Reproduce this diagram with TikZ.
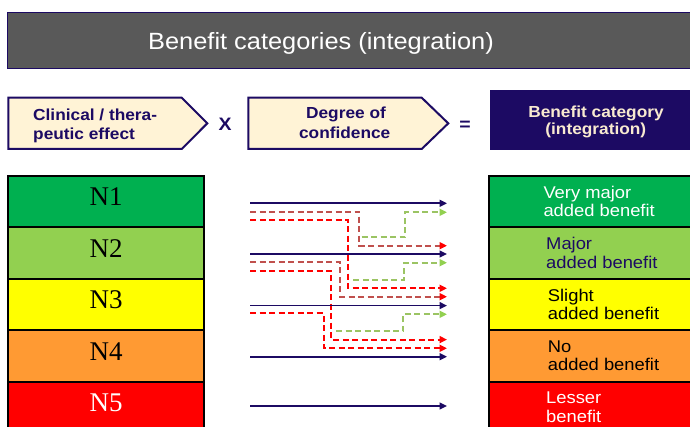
\documentclass[tikz,border=0pt]{standalone}
\usepackage{fontspec}
\setmainfont{Liberation Sans}[FakeStretch=1.08]
\newfontfamily\serifN{Liberation Serif}
\usetikzlibrary{arrows.meta}
\definecolor{navy}{HTML}{1C0A63}
\definecolor{cream}{HTML}{FFF3D6}
\definecolor{creamtxt}{HTML}{F8EAD0}
\definecolor{titlegrey}{HTML}{595959}
\definecolor{cgreen}{HTML}{00B050}
\definecolor{clgreen}{HTML}{92D050}
\definecolor{cyellow}{HTML}{FFFF00}
\definecolor{corange}{HTML}{FF9A33}
\definecolor{cred}{HTML}{FF0000}
\definecolor{dred}{HTML}{C0504D}
\definecolor{gline}{HTML}{9BC463}
\begin{document}
\begin{tikzpicture}[x=1pt,y=-1pt,
  lbox/.style={draw=black, line width=2pt},
  chev/.style={draw=navy, fill=cream, line width=2pt, line join=miter},
  ntext/.style={anchor=base, inner sep=0pt, font=\serifN\fontsize{27}{27}\selectfont},
  rtext/.style={anchor=base west, inner sep=0pt, font=\fontsize{17}{17}\selectfont},
  htext/.style={inner sep=0pt, text=navy, font=\bfseries\fontsize{16}{16}\selectfont},
  navyarrow/.style={draw=navy, line width=1.6pt, -{Triangle[length=7.5pt,width=7pt]}},
  dsh/.style={line width=2pt, dash pattern=on 6pt off 3.5pt},
  brownarrow/.style={dsh, draw=dred, -{Triangle[length=7.5pt,width=7pt,color=cred]}},
  redarrow/.style={dsh, draw=cred, -{Triangle[length=7.5pt,width=7pt,color=cred]}},
  greenarrow/.style={dsh, draw=gline, -{Triangle[length=7.5pt,width=7pt,color=clgreen]}}
]
\useasboundingbox (0,0) rectangle (690,427);
\clip (0,0) rectangle (690,427);
\fill[white] (0,0) rectangle (690,427);

% title bar
\draw[fill=titlegrey, draw=navy, line width=0.8pt] (7,12) rectangle (700,68.3);
\node[anchor=base west, inner sep=0pt, text=white, font=\fontsize{23.5}{23.5}\selectfont] (title) at (148,50) {Benefit categories (integration)};

% header chevrons
\draw[chev] (8.3,97.7) -- (181.7,97.7) -- (207.3,123.35) -- (181.7,149) -- (8.3,149) -- cycle;
\node[htext, anchor=base west] (c1a) at (33,121) {Clinical / thera-};
\node[htext, anchor=base west] (c1b) at (33,140) {peutic effect};
\node[inner sep=0pt, anchor=base, text=navy, font=\bfseries\fontsize{18}{18}\selectfont] (times) at (225,130.5) {X};

\draw[chev] (248.3,97.7) -- (421.7,97.7) -- (448.3,123.35) -- (421.7,149) -- (248.3,149) -- cycle;
\node[htext, anchor=base] (d1) at (346,118.3) {Degree of};
\node[htext, anchor=base] (d2) at (344.7,138.3) {confidence};
\node[inner sep=0pt, anchor=center, text=navy, font=\bfseries\fontsize{18}{18}\selectfont] (eq) at (465,125.7) {=};

\fill[navy] (490,90) rectangle (700,150.5);
\node[htext, text=creamtxt, anchor=base] (b1) at (596,117.3) {Benefit category};
\node[htext, text=creamtxt, anchor=base] (b2) at (595.8,135) {(integration)};

% left column
\draw[lbox, fill=cgreen]  (8,176)   rectangle (204,227.4);
\draw[lbox, fill=clgreen] (8,227.4) rectangle (204,278.8);
\draw[lbox, fill=cyellow] (8,278.8) rectangle (204,330.2);
\draw[lbox, fill=corange] (8,330.2) rectangle (204,381.6);
\draw[lbox, fill=cred]    (8,381.6) rectangle (204,433);
\node[ntext] (n1) at (106.2,206) {N1};
\node[ntext] (n2) at (106.2,257.4) {N2};
\node[ntext] (n3) at (106.2,308.8) {N3};
\node[ntext] (n4) at (106.2,360.2) {N4};
\node[ntext, text=white] (n5) at (106.2,411.6) {N5};

% right column
\draw[lbox, fill=cgreen]  (489,176)   rectangle (700,227.4);
\draw[lbox, fill=clgreen] (489,227.4) rectangle (700,278.8);
\draw[lbox, fill=cyellow] (489,278.8) rectangle (700,330.2);
\draw[lbox, fill=corange] (489,330.2) rectangle (700,381.6);
\draw[lbox, fill=cred]    (489,381.6) rectangle (700,433);
\node[rtext, text=white] (r1a) at (543.3,198.3) {Very major};
\node[rtext, text=white] (r1b) at (543.3,216.7) {added benefit};
\node[rtext, text=navy]  (r2a) at (546,249.7) {Major};
\node[rtext, text=navy]  (r2b) at (546,268.1) {added benefit};
\node[rtext, text=black] (r3a) at (547.7,301.1) {Slight};
\node[rtext, text=black] (r3b) at (547.7,319.5) {added benefit};
\node[rtext, text=black] (r4a) at (547.7,352.5) {No};
\node[rtext, text=black] (r4b) at (547.7,370.9) {added benefit};
\node[rtext, text=white] (r5a) at (546,403.9) {Lesser};
\node[rtext, text=white] (r5b) at (546,422.3) {benefit};

% connector coordinates
\coordinate (s1) at (250,203.3); \coordinate (e1) at (447,203.3);
\coordinate (s2) at (250,254);   \coordinate (e2) at (447,254);
\coordinate (s3) at (250,305.6); \coordinate (e3) at (447,305.6);
\coordinate (s4) at (250,356.7); \coordinate (e4) at (447,356.7);
\coordinate (s5) at (250,406);   \coordinate (e5) at (447,406);

\coordinate (sA) at (250,211.7); \coordinate (kA) at (359,245.7);   \coordinate (eA) at (447,245.7);
\coordinate (sB) at (250,220);   \coordinate (kB) at (348.3,288.3); \coordinate (eB) at (447,288.3);
\coordinate (sC) at (250,262.3); \coordinate (kC) at (340,296.7);   \coordinate (eC) at (447,296.7);
\coordinate (sD) at (250,270.7); \coordinate (kD) at (331,339.6);   \coordinate (eD) at (447,339.6);
\coordinate (sE) at (250,313.3); \coordinate (kE) at (323.5,348.3); \coordinate (eE) at (447,348.3);

\coordinate (sG1) at (361.7,237.3); \coordinate (kG1) at (405,212.3);   \coordinate (eG1) at (447,212.3);
\coordinate (sG2) at (353.3,280);   \coordinate (kG2) at (404,262.7);   \coordinate (eG2) at (447,262.7);
\coordinate (sG3) at (336,331);     \coordinate (kG3) at (403.3,314.3); \coordinate (eG3) at (447,314.3);

% dashed connectors
\draw[greenarrow] (sG1) -| (kG1) -- (eG1);
\draw[greenarrow] (sG2) -| (kG2) -- (eG2);
\draw[greenarrow] (sG3) -| (kG3) -- (eG3);
\draw[brownarrow] (sA) -| (kA) -- (eA);
\draw[redarrow]   (sB) -| (kB) -- (eB);
\draw[brownarrow] (sC) -| (kC) -- (eC);
\draw[redarrow]   (sD) -| (kD) -- (eD);
\draw[redarrow]   (sE) -| (kE) -- (eE);

% solid connectors
\draw[navyarrow] (s1) -- (e1);
\draw[navyarrow] (s2) -- (e2);
\draw[navyarrow] (s3) -- (e3);
\draw[navyarrow] (s4) -- (e4);
\draw[navyarrow] (s5) -- (e5);
\end{tikzpicture}
\end{document}
